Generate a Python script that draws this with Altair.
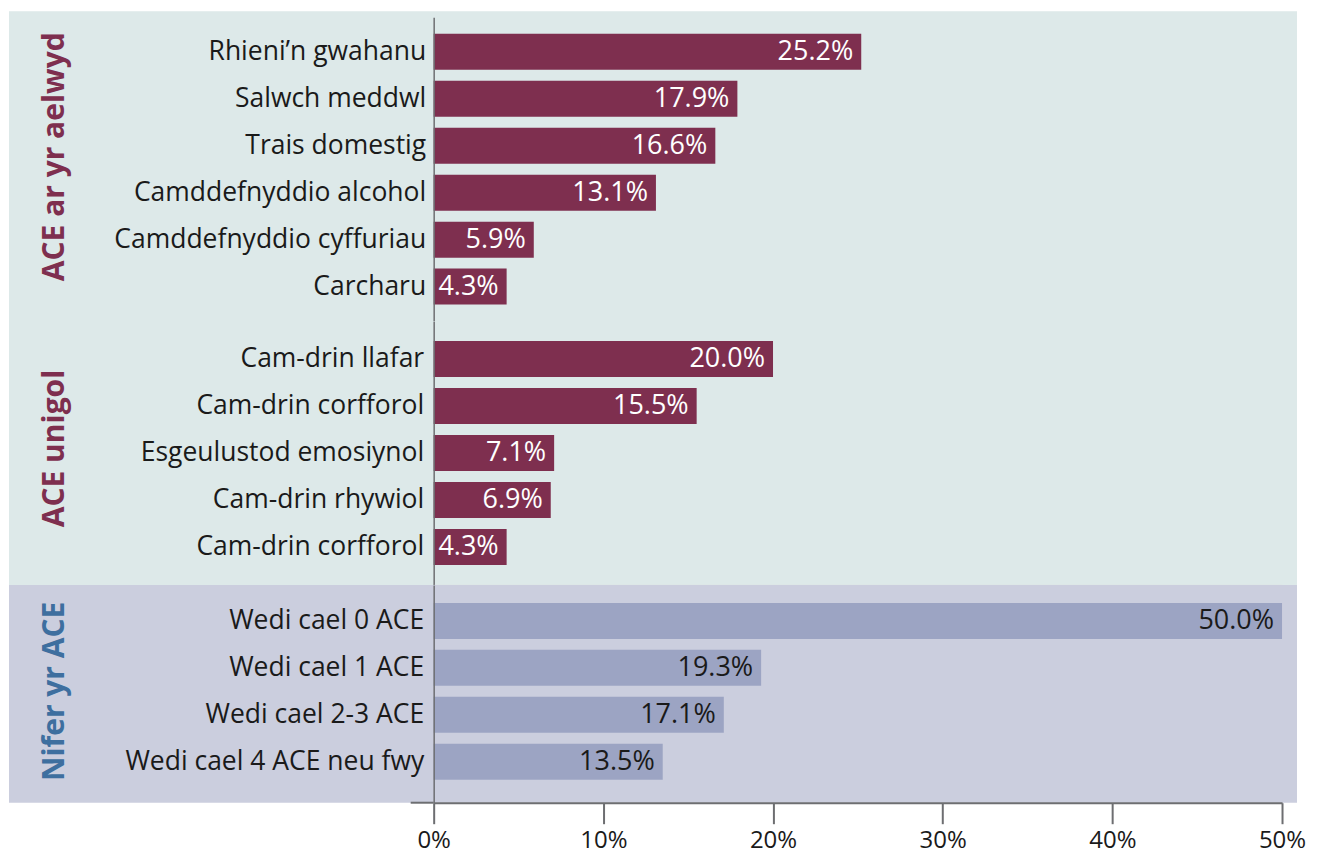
import altair as alt
import pandas as pd

# ---------------- data ----------------
household_labels = ["Rhieni’n gwahanu", "Salwch meddwl", "Trais domestig",
                    "Camddefnyddio alcohol", "Camddefnyddio cyffuriau", "Carcharu"]
household_values = [25.2, 17.9, 16.6, 13.1, 5.9, 4.3]

individual_labels = ["Cam-drin llafar", "Cam-drin corfforol", "Esgeulustod emosiynol",
                     "Cam-drin rhywiol", "Cam-drin corfforol"]
individual_values = [20.0, 15.5, 7.1, 6.9, 4.3]

count_labels = ["Wedi cael 0 ACE", "Wedi cael 1 ACE", "Wedi cael 2-3 ACE",
                "Wedi cael 4 ACE neu fwy"]
count_values = [50.0, 19.3, 17.1, 13.5]

group_titles = ["ACE ar yr aelwyd", "ACE unigol", "Nifer yr ACE"]
x_ticks = [0, 10, 20, 30, 40, 50]

# ---------------- style ----------------
FONT = "Open Sans"
MAROON = "#7e2f4f"
LAV_BAR = "#9ca4c3"
TEAL_BG = "#dde9e9"
LAV_BG = "#cbcede"
BLUE = "#3e6f9f"
GRAY = "#6d6e71"
TEXT = "#1a1a1a"
W = 849
LEFT = -425
RIGHT = 864


def frame(labels, values):
    return pd.DataFrame({
        "key": [f"{i}|{l}" for i, l in enumerate(labels)],
        "value": values,
    })


def panel(labels, values, title, title_color, title_y, height, bar_color,
          text_color, pad_outer, align, bg, bg_top, bg_extra, label_pad,
          bottom=False):
    df = frame(labels, values)
    keys = list(df["key"])
    y = alt.Y("key:N", sort=keys,
              scale=alt.Scale(paddingInner=0.234, paddingOuter=pad_outer, align=align),
              axis=alt.Axis(title=title, titleColor=title_color, titleFont=FONT,
                            titleFontSize=30, titleFontWeight="bold",
                            titleAngle=270, titleX=-370, titleY=title_y,
                            titleAlign="center", titleBaseline="alphabetic",
                            labelExpr="split(datum.label, '|')[1]",
                            labelFont=FONT, labelFontSize=26.5, labelColor=TEXT,
                            labelPadding=label_pad, labelLimit=500, ticks=False,
                            domainColor=GRAY, domainWidth=1.5, zindex=1))
    if bottom:
        x = alt.X("value:Q", scale=alt.Scale(domain=[0, 50], nice=False),
                  axis=alt.Axis(values=x_ticks, labelExpr="datum.value + '%'",
                                title=None, grid=False, labelFont=FONT,
                                labelFontSize=24, labelColor=TEXT, labelPadding=5,
                                labelFlush=False,
                                tickSize=21, tickWidth=2, tickColor=GRAY,
                                domainColor=GRAY, domainWidth=2, zindex=1))
    else:
        x = alt.X("value:Q", scale=alt.Scale(domain=[0, 50], nice=False), axis=None)

    one = pd.DataFrame({"a": [0]})
    bg_layer = alt.Chart(one).mark_rect(color=bg).encode(
        x=alt.value(LEFT), x2=alt.value(RIGHT),
        y=alt.value(bg_top), y2=alt.value(height + bg_extra))
    bars = alt.Chart(df).mark_bar(color=bar_color).encode(x=x, y=y)
    texts = alt.Chart(df).transform_calculate(
        lab="format(datum.value, '.1f') + '%'"
    ).mark_text(align="right", baseline="middle", dx=-8, font=FONT,
                fontSize=27, color=text_color).encode(
        x=alt.X("value:Q"), y=alt.Y("key:N", sort=keys), text="lab:N")
    layers = [bg_layer, bars, texts]
    if bottom:
        rule = alt.Chart(one).mark_rule(color=GRAY, strokeWidth=2).encode(
            x=alt.value(-23), x2=alt.value(0), y=alt.value(height))
        layers.append(rule)
    return alt.layer(*layers).properties(width=W, height=height)


pA = panel(household_labels, household_values, group_titles[0], MAROON, 139, 304,
           MAROON, "white", 0.351, 0.5, TEAL_BG, -6, 2, 8)
pB = panel(individual_labels, individual_values, group_titles[1], MAROON, 127, 264,
           MAROON, "white", 0.4255, 0.5, TEAL_BG, 0, 0, 10)
pC = panel(count_labels, count_values, group_titles[2], BLUE, 106, 218,
           LAV_BAR, "#1a1a1a", 0.436, 0.44, LAV_BG, 0, 0, 10, bottom=True)

chart = alt.vconcat(pA, pB, pC, spacing=0, bounds="flush").properties(
    padding={"left": 0, "top": 2, "right": 5, "bottom": 0}
).configure_view(stroke=None).configure(font=FONT)

chart.save("out.html", embed_options={"renderer": "svg", "actions": False})
